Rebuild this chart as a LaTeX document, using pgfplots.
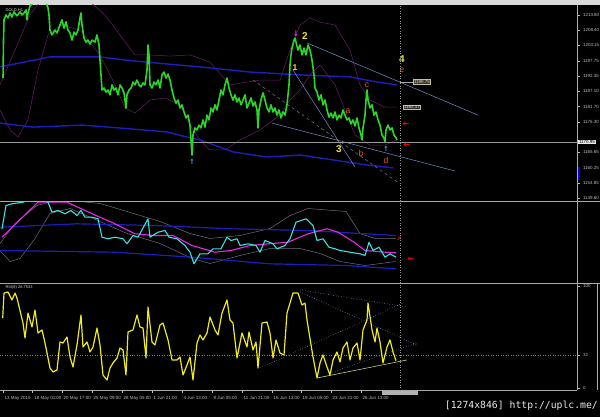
\documentclass[border=0pt]{standalone}
\usepackage{pgfplots}
\pgfplotsset{compat=1.18}
\usepackage{fontspec}
\setmainfont{Liberation Sans}
\newfontfamily\dejavu{DejaVu Sans}
\newfontfamily\wmfont{DejaVu Sans Mono}

\definecolor{cgreen}{RGB}{40,215,40}
\definecolor{cblue}{RGB}{30,30,190}
\definecolor{cpurple}{RGB}{105,30,105}
\definecolor{ccyan}{RGB}{60,225,225}
\definecolor{cmag}{RGB}{230,40,230}
\definecolor{cgray}{RGB}{110,110,130}
\definecolor{cyel}{RGB}{240,235,30}
\definecolor{clab}{RGB}{190,190,190}
\definecolor{cnum}{RGB}{240,225,60}
\definecolor{cletter}{RGB}{250,80,30}
\definecolor{ctrend}{RGB}{120,140,200}
\definecolor{carrow}{RGB}{70,160,230}
\definecolor{cframe}{RGB}{170,170,170}
\definecolor{cgline}{RGB}{190,210,130}
\definecolor{ctagdraw}{RGB}{200,190,150}
\definecolor{ctagfill}{RGB}{55,50,40}

\pgfplotsset{
 panel/.style={scale only axis, width=577bp, axis line style={draw=none},
   clip mode=individual, xmin=0, xmax=577, xtick=\empty, ytick=\empty,
   tick style={draw=clab, line width=0.3pt}, major tick length=2.5bp, tick align=outside,
   tick label style={font=\fontsize{4.5}{5}\selectfont, text=clab},
   /pgf/number format/assume math mode=true},
 glyph/.style n args={3}{draw=none, mark=none, nodes near coords={#1}, nodes near coords align=center,
   every node near coord/.append style={anchor=center, inner sep=0pt, text=#2, font=\fontsize{#3}{#3}\selectfont\dejavu\bfseries}},
}

\begin{document}
\begin{tikzpicture}
\useasboundingbox (0,0) rectangle (600bp,417bp);
\fill[black] (0,0) rectangle (600bp,417bp);
\fill[white!85!black] (0,412bp) rectangle (600bp,417bp);

% ---------------- main price panel ----------------
\begin{axis}[panel, at={(0bp,215.5bp)}, anchor=south west, height=196.5bp,
  ymin=1148.41, ymax=1217.31, ytick pos=right, yticklabel pos=right,
  ytick={1213.80,1208.40,1203.15,1197.75,1192.35,1187.10,1181.70,1176.30,1165.65,1160.25,1154.85,1149.60},
  yticklabels={1213.80,1208.40,1203.15,1197.75,1192.35,1187.10,1181.70,1176.30,1165.65,1160.25,1154.85,1149.60}]
% bollinger (purple)
\addplot[cpurple, line width=0.5pt] coordinates {(0,1189.3) (15,1201.5) (30,1213.8) (40,1218.4) (90,1218.4) (105,1213.8) (120,1206.8) (135,1199.8) (150,1199.8) (170,1199.4) (190,1199.8) (210,1197.3) (230,1189.3) (260,1191.0) (280,1191.0) (290,1201.5) (300,1210.3) (310,1212.8) (320,1211.3) (335,1210.3) (350,1201.5) (360,1189.3) (370,1184.0) (385,1181.5) (397,1181.5)};
\addplot[cpurple, line width=0.5pt] coordinates {(0,1180.5) (10,1173.5) (18,1171.0) (28,1177.0) (38,1194.5) (48,1206.8) (60,1210.3) (80,1208.5) (100,1199.8) (115,1189.3) (125,1181.2) (135,1179.4) (150,1184.0) (165,1184.7) (180,1182.3) (190,1175.2) (200,1170.0) (210,1166.5) (225,1166.5) (240,1170.0) (260,1173.5) (280,1178.7) (290,1184.0) (300,1187.5) (310,1192.8) (320,1196.3) (335,1189.3) (345,1180.5) (355,1171.7) (370,1168.2) (385,1168.2) (397,1170.0)};
% envelopes (blue)
\addplot[cblue, line width=1.4pt] coordinates {(0,1195.6) (50,1199.1) (100,1199.1) (133,1197.7) (200,1195.6) (250,1193.8) (300,1192.8) (350,1192.1) (377,1190.3) (397,1189.3)};
\addplot[cblue, line width=1.4pt] coordinates {(0,1175.9) (33,1174.5) (83,1175.2) (133,1173.8) (167,1172.8) (187,1171.0) (200,1170.0) (233,1165.8) (267,1164.0) (300,1164.7) (333,1163.0) (367,1161.2) (393,1160.2)};
% trend lines
\addplot[ctrend, line width=0.5pt] coordinates {(307,1204.0) (478,1178.7)};
\addplot[ctrend, line width=0.5pt] coordinates {(272,1175.9) (455,1159.1)};
\addplot[ctrend, line width=0.5pt] coordinates {(293,1194.5) (355,1160.5)};
\addplot[gray, line width=0.5pt, dashed] coordinates {(253,1191.0) (397,1155.3)};
% current price line
\addplot[gray!80, line width=0.6pt] coordinates {(0,1169.3) (577,1169.3)};
% price
\addplot[cgreen, line width=1.6pt, line join=round] coordinates {
(3,1191.7) (3.5,1205.0) (4,1212.1) (6,1213.8) (8,1212.8) (10,1214.5) (12,1213.1) (14,1214.9) (17,1213.5) (20,1214.9) (22,1213.8) (24,1214.5) (26,1215.6) (27,1212.1) (28,1214.5) (30,1217.0) (34,1218.4) (38,1219.8) (42,1219.1) (46,1218.0) (48,1216.3) (49,1213.8) (50,1208.5) (52,1206.8) (55,1208.5) (57,1207.5) (60,1210.3) (62,1212.1) (64,1209.2) (66,1211.4) (68,1208.5) (70,1207.5) (72,1205.0) (74,1207.8) (76,1206.8) (78,1208.5) (80,1212.8) (81,1214.5) (82,1210.3) (84,1205.7) (86,1204.3) (88,1205.0) (90,1203.6) (92,1205.0) (95,1204.3) (97,1206.8) (99,1203.3) (100,1198.0) (101,1192.8) (102,1187.5) (104,1188.2) (106,1186.8) (108,1187.5) (110,1185.8) (112,1189.3) (114,1187.5) (116,1188.2) (118,1185.8) (120,1189.3) (122,1188.2) (124,1186.5) (126,1181.2) (127,1185.8) (129,1187.5) (131,1188.2) (133,1190.3) (135,1189.3) (137,1191.0) (139,1189.3) (141,1188.6) (143,1190.0) (145,1189.3) (147,1194.5) (148,1203.3) (149,1199.8) (150,1189.3) (152,1188.2) (154,1190.3) (156,1189.3) (158,1191.0) (160,1188.2) (162,1192.8) (164,1193.8) (166,1191.7) (168,1193.1) (170,1191.0) (172,1187.5) (174,1184.7) (176,1182.9) (178,1184.0) (180,1181.2) (182,1182.3) (184,1179.8) (186,1177.7) (188,1178.7) (190,1175.2) (191,1170.0) (192,1164.7) (193,1171.7) (195,1174.2) (197,1173.5) (199,1175.2) (201,1174.2) (203,1177.0) (205,1174.5) (207,1178.7) (209,1177.0) (211,1181.2) (213,1179.8) (215,1182.3) (217,1180.5) (219,1184.0) (221,1187.5) (223,1185.8) (225,1189.3) (227,1191.7) (229,1188.2) (231,1185.8) (233,1184.0) (235,1185.8) (237,1183.3) (239,1184.7) (241,1182.3) (243,1184.0) (245,1185.8) (247,1181.2) (249,1182.9) (251,1184.7) (253,1181.9) (255,1183.3) (257,1180.5) (258,1174.2) (259,1180.5) (261,1184.0) (263,1186.5) (265,1184.0) (267,1181.2) (269,1179.8) (271,1182.3) (273,1179.8) (275,1181.2) (277,1178.7) (279,1180.5) (281,1177.7) (283,1179.8) (285,1178.7) (287,1182.3) (289,1189.3) (290,1196.3) (291,1199.8) (292,1202.2) (294,1205.0) (295,1205.7) (296,1204.3) (298,1201.5) (300,1203.3) (302,1199.8) (304,1202.2) (306,1199.8) (308,1203.3) (310,1201.5) (312,1198.0) (314,1192.8) (315,1188.2) (317,1186.8) (319,1184.0) (321,1185.8) (323,1182.3) (325,1184.0) (327,1180.5) (329,1178.0) (331,1179.4) (333,1177.7) (335,1179.8) (337,1177.0) (339,1178.7) (341,1177.7) (343,1180.5) (345,1178.7) (347,1177.0) (349,1177.7) (351,1175.6) (353,1177.0) (355,1174.9) (357,1177.7) (359,1174.2) (361,1171.7) (362,1170.0) (363,1174.2) (365,1178.7) (366,1184.0) (367,1187.5) (368,1184.0) (370,1181.2) (372,1182.3) (374,1178.7) (376,1179.8) (378,1177.0) (380,1175.2) (382,1171.7) (384,1170.7) (385,1169.3) (386,1173.5) (388,1175.2) (390,1173.5) (392,1174.2) (394,1171.7) (396,1170.7) (397,1170.0)};
% arrows
\addplot[glyph={↑}{carrow}{7}] coordinates {(192,1162.3) (386,1166.8)};
\addplot[glyph={↓}{cmag}{8}] coordinates {(296,1207.2)};
\addplot[glyph={←}{red}{8}] coordinates {(406,1175.6) (407,1168.1)};
% wave labels
\node[text=cnum, font=\fontsize{10}{10}\selectfont\bfseries] at (axis cs:305,1206.4) {2};
\node[text=cnum, font=\fontsize{8.5}{8.5}\selectfont\bfseries] at (axis cs:295,1195.3) {1};
\node[text=cnum, font=\fontsize{10}{10}\selectfont\bfseries] at (axis cs:339,1166.8) {3};
\node[text=cnum, font=\fontsize{10}{10}\selectfont\bfseries] at (axis cs:402,1198.4) {4};
\node[text=cletter, font=\fontsize{8.5}{8.5}\selectfont] at (axis cs:402,1194.5) {e};
\node[text=cletter, font=\fontsize{8.5}{8.5}\selectfont] at (axis cs:348,1180.0) {a};
\node[text=cletter, font=\fontsize{8.5}{8.5}\selectfont] at (axis cs:361,1165.4) {b};
\node[text=cletter, font=\fontsize{8.5}{8.5}\selectfont] at (axis cs:367,1189.3) {c};
\node[text=cletter, font=\fontsize{8.5}{8.5}\selectfont] at (axis cs:386,1162.9) {d};
% price tags
\draw[gray!70] (axis cs:400,1190.3) -- (axis cs:413,1190.3);
\node[anchor=west, draw=ctagdraw, fill=ctagfill, text=white!90!black, font=\fontsize{4.5}{5}\selectfont, inner sep=0.8bp] at (axis cs:413,1190.3) {1190.75};
\node[anchor=west, draw=ctagdraw, fill=ctagfill, text=white!90!black, font=\fontsize{4.5}{5}\selectfont, inner sep=0.8bp] at (axis cs:403,1181.5) {1182.17};
\node[anchor=west, fill=white!92!black, text=black, font=\fontsize{4.5}{5}\selectfont, inner sep=0.8bp] at (axis cs:578,1169.3) {1170.95};
\fill[blue] (axis cs:577,1160.6) rectangle (axis cs:579.5,1156.1);
\node[anchor=west, text=white!85!black, font=\fontsize{4}{4}\selectfont] at (axis cs:2,1215.6) {GOLD,H1};
\end{axis}

% ---------------- oscillator panel ----------------
\begin{axis}[panel, at={(0bp,133.5bp)}, anchor=south west, height=82bp, ymin=0, ymax=82]
\addplot[cgray, line width=0.5pt] coordinates {(0,40) (15,60) (37,78) (60,84) (100,80) (127,72) (160,62) (190,50) (210,45) (240,48) (270,55) (290,68) (308,75) (346,72) (360,50) (375,45) (396,45)};
\addplot[cgray, line width=0.5pt] coordinates {(0,33) (10,22) (20,25) (35,45) (50,70) (70,75) (100,62) (127,50) (160,40) (192,25) (210,20) (240,28) (270,35) (300,35) (320,30) (340,22) (365,18) (396,22)};
\addplot[cblue, line width=1.2pt] coordinates {(0,56.3) (77,59.7) (154,58) (231,54.7) (308,53) (396,48)};
\addplot[cblue, line width=1.2pt] coordinates {(0,33) (115,31.3) (192,26.3) (269,19.7) (346,18) (396,14.7)};
\addplot[cmag, line width=1.1pt] coordinates {(2,46.3) (38,81.3) (67,81.3) (96,68) (115,59.7) (135,49.7) (154,48) (173,48) (192,38) (215,31.3) (231,33) (250,38) (269,39.7) (288,41.3) (308,49.7) (327,54.7) (338,51.3) (354,41.3) (365,33) (385,31.3) (396,30.7)};
\addplot[ccyan, line width=1.1pt, line join=round] coordinates {(2,54.7) (6,78) (12,79.7) (23,81.3) (30,84) (40,84) (48,81.3) (52,71.3) (58,73) (65,69.7) (71,73) (77,68) (81,73) (85,66.3) (92,66.3) (98,64.7) (102,46.3) (108,44.7) (115,46.3) (123,44.7) (127,39.7) (133,48) (138,46.3) (148,64.7) (150,46.3) (158,51.3) (165,53) (169,46.3) (177,44.7) (185,38) (190,31.3) (194,19.7) (200,29.7) (208,29.7) (213,34.7) (221,34.7) (227,46.3) (231,43) (237,44.7) (240,38) (248,39.7) (256,38) (260,31.3) (265,43) (273,39.7) (277,34.7) (285,38) (290,44.7) (296,61.3) (306,64.7) (313,58) (317,43) (323,44.7) (329,36.3) (335,34.7) (340,33) (350,31.3) (360,29.7) (365,28) (369,41.3) (373,33) (379,36.3) (385,26.3) (390,29.7) (396,26.3)};
\addplot[glyph={←}{red}{8}] coordinates {(411,24.5)};
\addplot[glyph={↗}{red}{7}] coordinates {(399,44)};
\end{axis}

% ---------------- RSI panel ----------------
\begin{axis}[panel, at={(0bp,27bp)}, anchor=south west, height=106.5bp, ymin=-1.96, ymax=102.45,
  ytick={0,32,100}, ytick pos=right, yticklabel pos=right,
  xtick={2.7,32.3,61.7,91.7,121.7,151.7,181.7,211.7,241.7,271.7,300.7,330.7,360.7},
  xticklabels={13 May 2015,18 May 01:00,20 May 17:00,25 May 09:00,28 May 05:00,1 Jun 21:00,4 Jun 13:00,9 Jun 05:00,11 Jun 21:00,16 Jun 13:00,19 Jun 05:00,23 Jun 21:00,26 Jun 13:00},
  xtick pos=bottom, xticklabel style={anchor=north west, xshift=-1.5bp}]
\addplot[gray, dotted, line width=0.5pt] coordinates {(0,32) (577,32)};
\addplot[ctrend, dotted, line width=0.6pt] coordinates {(300,96.1) (407,79.4)};
\addplot[ctrend, dotted, line width=0.6pt] coordinates {(300,94.1) (417,42.2)};
\addplot[ctrend, dotted, line width=0.6pt] coordinates {(260,19.6) (403,83.3)};
\addplot[ctrend, dotted, line width=0.6pt] coordinates {(330,14.7) (417,44.1)};
\addplot[cgline, line width=0.6pt] coordinates {(317,9.8) (407,27.5)};
\addplot[cyel, line width=1.2pt, line join=round] coordinates {
(2.7,68.6) (4,93.1) (8,94.1) (12,86.3) (15,93.1) (17,88.2) (23,63.7) (25,49.0) (28,73.5) (32,59.8) (35,76.5) (38,53.9) (42,56.9) (45,44.1) (50,19.6) (53,15.7) (57,17.6) (60,45.1) (63,44.1) (67,50.0) (70,30.4) (73,20.6) (77,42.2) (81,71.6) (83,40.2) (87,45.1) (90,35.3) (93,40.2) (97,58.8) (100,42.2) (103,12.7) (107,7.8) (110,19.6) (113,24.5) (117,29.4) (120,39.2) (123,37.3) (126,12.7) (128,54.9) (133,56.9) (137,71.6) (140,59.8) (143,58.8) (146,29.4) (148,79.4) (152,45.1) (155,42.2) (160,61.8) (163,63.7) (168,47.1) (172,27.5) (177,27.5) (180,30.4) (183,12.7) (187,22.5) (190,30.4) (193,7.8) (197,44.1) (200,52.0) (203,47.1) (207,53.9) (210,69.6) (215,56.9) (218,52.0) (222,73.5) (227,86.3) (230,66.7) (233,63.7) (237,29.4) (242,53.9) (247,40.2) (249,54.9) (253,37.3) (256,45.1) (258,19.6) (262,63.7) (267,64.7) (270,53.9) (273,29.4) (276,47.1) (280,34.3) (284,32.4) (287,73.5) (293,93.1) (298,93.1) (302,81.4) (305,83.3) (307,66.7) (313,30.4) (317,9.8) (320,24.5) (323,32.4) (327,20.6) (330,12.7) (333,27.5) (337,35.3) (340,25.5) (343,39.2) (347,45.1) (350,27.5) (353,39.2) (357,44.1) (360,27.5) (363,56.9) (367,66.7) (368,83.3) (372,56.9) (375,45.1) (377,58.8) (380,45.1) (383,24.5) (387,40.2) (390,47.1) (393,35.3) (396,26.8)};
\node[anchor=west, text=white!85!black, font=\fontsize{4}{4}\selectfont] at (axis cs:2,99) {RSI(8) 26.7533};
\end{axis}

% frame lines
\draw[cframe, line width=1.2pt] (0,215.5bp) -- (600bp,215.5bp);
\draw[cframe, line width=1.2pt] (0,133.5bp) -- (600bp,133.5bp);
\draw[cframe, line width=0.5pt] (0,27bp) -- (577bp,27bp);
\draw[cframe, line width=0.5pt] (577bp,27bp) -- (577bp,412bp);
\draw[cframe, line width=0.5pt] (597bp,27bp) -- (597bp,133.5bp);
\draw[gray!80, dotted, line width=0.5pt] (400bp,27bp) -- (400bp,412bp);
\fill[gray!60] (382bp,21.5bp) rectangle (418bp,25.5bp);
\node[anchor=east, text=white!92!black, font=\wmfont\fontsize{9.8}{10}\selectfont, inner sep=0pt] at (598bp,11bp) {[1274x846] http://uplc.me/};
\end{tikzpicture}
\end{document}
